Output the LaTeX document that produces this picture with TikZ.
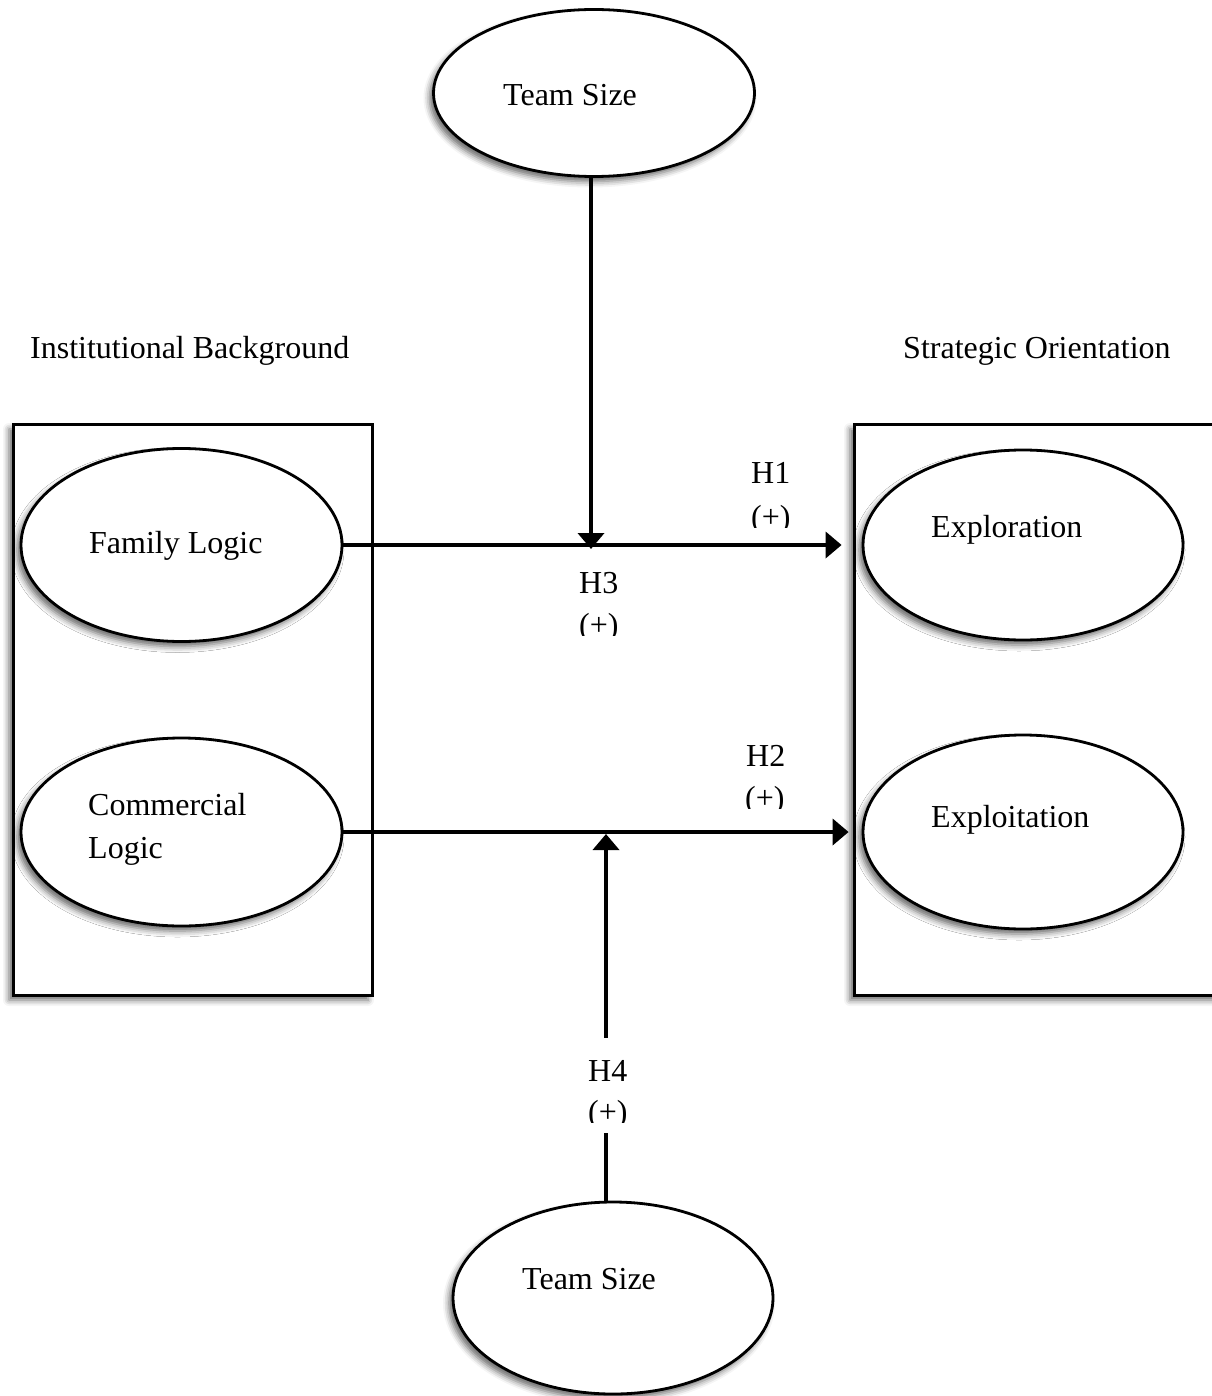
\documentclass[tikz,border=0pt]{standalone}
\usepackage{fontspec}
\setmainfont{Liberation Serif}
\usetikzlibrary{shapes.geometric,arrows.meta,shadows.blur}
\begin{document}
\begin{tikzpicture}[x=1pt,y=-1pt,
  font=\fontsize{32}{38}\selectfont,
  shad/.style={blur shadow={shadow xshift=-4pt,shadow yshift=-5pt,shadow blur radius=6pt,shadow opacity=60}},
  ell/.style={ellipse,draw,line width=2.8pt,fill=white,inner sep=0pt,shad},
  box/.style={rectangle,draw,line width=3pt,fill=white,inner sep=0pt,shad},
  arr/.style={line width=3.8pt,-{Triangle[width=26pt,length=16pt]}},
  lbl/.style={inner sep=0pt,anchor=base west},
  cut/.style={fill=white}
]
\useasboundingbox (0,0) rectangle (1211,1396);
% boxes
\node[box,minimum width=359pt,minimum height=571pt] (lbox) at (192.5,709.5) {};
\node[box,minimum width=366pt,minimum height=571pt] (rbox) at (1037,709.5) {};
% ellipses
\node[ell,minimum width=321pt,minimum height=167pt] (ts1) at (594,93) {};
\node[ell,minimum width=321pt,minimum height=193pt] (fam) at (181.5,545) {};
\node[ell,minimum width=321pt,minimum height=188pt] (com) at (181.5,832) {};
\node[ell,minimum width=320pt,minimum height=190pt] (explor) at (1023,545) {};
\node[ell,minimum width=320pt,minimum height=194pt] (exploit) at (1023,832) {};
\node[ell,minimum width=320pt,minimum height=192pt] (ts2) at (613,1298) {};
% connectors
\coordinate (m3) at (591,549);
\coordinate (m4) at (606,834);
\draw[arr,shorten >=20pt] (fam.east) -- (explor.west);
\draw[arr,shorten >=13pt] (com.east) -- (exploit.west);
\draw[arr] (m3 |- ts1.south) -- (m3);
\draw[arr] (m4 |- ts2.north) -- (m4);
% white label box over the lower connector
\node[fill=white,inner sep=0pt,minimum width=64pt,minimum height=95pt] (h4box) at (606,1085.5) {};
% texts
\node[lbl] (t1) at (503,106) {Team Size};
\node[lbl] (t2) at (89,553) {Family Logic};
\node[lbl] (t3) at (88,815) {Commercial};
\node[lbl] (t4) at (88,858) {Logic};
\node[lbl] (t5) at (931,537) {Exploration};
\node[lbl] (t6) at (931,827) {Exploitation};
\node[lbl] (t7) at (522,1289) {Team Size};
\node[lbl] (ib) at (30,358) {Institutional Background};
\node[lbl] (so) at (903,358) {Strategic Orientation};
\node[lbl] (h1) at (751,483) {H1};
\node[lbl] (p1) at (751,527) {(+)};
\node[lbl] (h3) at (579,593) {H3};
\node[lbl] (p3) at (579,635) {(+)};
\node[lbl] (h2) at (746,766) {H2};
\node[lbl] (p2) at (745,808) {(+)};
\node[lbl] (h4) at (588,1081) {H4};
\node[lbl] (p4) at (588,1122) {(+)};
% text boxes cut off the bottoms of the "(+)" lines
\fill[cut] (745,527.5) rectangle (800,537);
\fill[cut] (740,808.5) rectangle (795,818);
\fill[cut] (570,635.5) rectangle (625,646);
\fill[cut] (580,1122.5) rectangle (635,1132);
\end{tikzpicture}
\end{document}
